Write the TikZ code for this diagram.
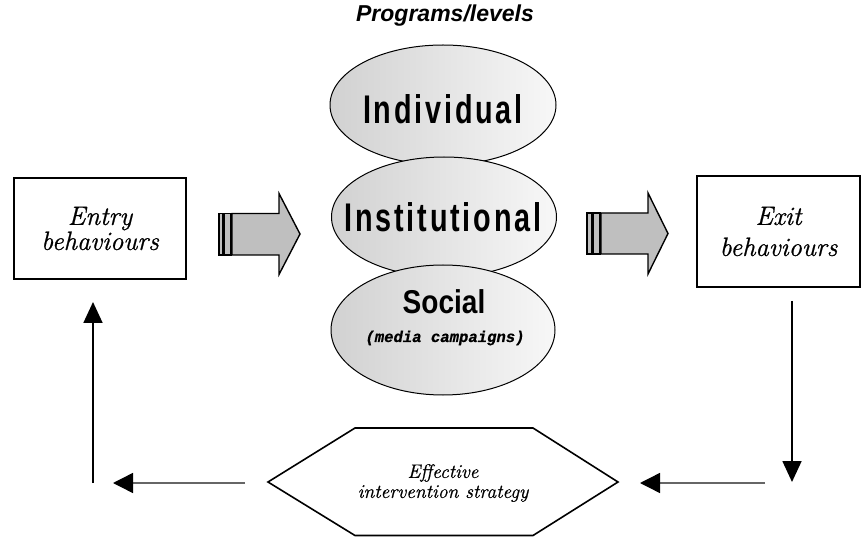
\documentclass[tikz,border=0pt]{standalone}
\usepackage{fontspec}
\usetikzlibrary{shapes.geometric,arrows.meta}
\newfontfamily\condfont[FakeStretch=0.72,LetterSpace=7]{Liberation Sans}
\newfontfamily\socialfont[FakeStretch=0.85]{Liberation Sans}
\newfontfamily\titlefont{Liberation Sans}
\newfontfamily\medmono[FakeBold=0.6]{Liberation Mono}
\newfontfamily\behfont[FakeBold=0.8]{Latin Modern Roman}
\begin{document}
\begin{tikzpicture}[x=1pt,y=-1pt,
  box/.style={draw,line width=1.6pt,inner sep=0pt,align=center,
    font=\behfont\itshape\fontsize{26.5}{25}\selectfont},
  lvl/.style={ellipse,draw,line width=1pt,left color=black!18,right color=black!3,inner sep=0pt},
  lvltext/.style={font=\condfont\bfseries\fontsize{40}{40}\selectfont,inner sep=0pt},
  blk/.style={draw,line width=1.4pt,fill=black!25,line join=miter},
  vconn/.style={line width=1.8pt,-{Triangle[length=21pt,width=19pt]}},
  hconn/.style={line width=1.4pt,draw=black!60,-{Triangle[length=20pt,width=20pt,color=black]}}
]
\useasboundingbox (0,0) rectangle (862,537);

% title
\node[font=\titlefont\bfseries\itshape\fontsize{23}{23}\selectfont] (title) at (445,16) {Programs/levels};

% ellipses
\node[lvl,minimum width=226pt,minimum height=120pt] (ind) at (443,105) {};
\node[lvl,minimum width=225pt,minimum height=120pt] (inst) at (444,217) {};
\node[lvl,minimum width=224pt,minimum height=130pt] (soc) at (443,330) {};
\node[lvltext] (indt) at (443,109) {Individual};
\node[lvltext] (instt) at (443,217.5) {Institutional};
\node[font=\socialfont\bfseries\fontsize{33}{33}\selectfont,inner sep=0pt] (soct) at (444,302) {Social};
\node[font=\medmono\bfseries\itshape\fontsize{15.6}{15}\selectfont,inner sep=0pt] (socm) at (445,338) {(media campaigns)};

% boxes
\node[box,minimum width=172pt,minimum height=101pt] (entry) at (100,228.5) {Entry\\behaviours};
\node[box,minimum width=163pt,minimum height=111pt,
  font=\behfont\itshape\fontsize{26.5}{31}\selectfont] (exit) at (778.5,231.5) {Exit\\behaviours};

% block arrows
\draw[blk] (232,213.5) -- (279,213.5) -- (279,193.5) -- (300,234) -- (279,274.5) -- (279,255) -- (232,255) -- cycle;
\draw[blk] (219,213.5) rectangle (223,255);
\draw[blk] (224.5,213.5) rectangle (231,255);
\draw[blk] (601,213) -- (648,213) -- (648,193) -- (668,233.5) -- (648,274) -- (648,254) -- (601,254) -- cycle;
\draw[blk] (587,213) rectangle (591.5,254);
\draw[blk] (593,213) rectangle (600,254);

% hexagon
\draw[line width=1.6pt,line join=miter] (268,482) -- (355,428) -- (533,428) -- (618,482) -- (533,535.5) -- (355,535.5) -- cycle;
\node[align=center,font=\behfont\itshape\fontsize{19.5}{20}\selectfont] (strat) at (443,483) {Effective\\intervention strategy};

% feedback connectors
\coordinate (exitdown) at (792,301);
\coordinate (corner) at (792,482);
\coordinate (hrstart) at (765,483);
\coordinate (hrend) at (640,483);
\coordinate (hlstart) at (245,483);
\coordinate (hlend) at (113,483);
\coordinate (vlstart) at (93,483);
\coordinate (vlend) at (93,302);
\draw[vconn] (exitdown) -- (corner);
\draw[hconn] (hrstart) -- (hrend);
\draw[hconn] (hlstart) -- (hlend);
\draw[vconn] (vlstart) -- (vlend);
\end{tikzpicture}
\end{document}
